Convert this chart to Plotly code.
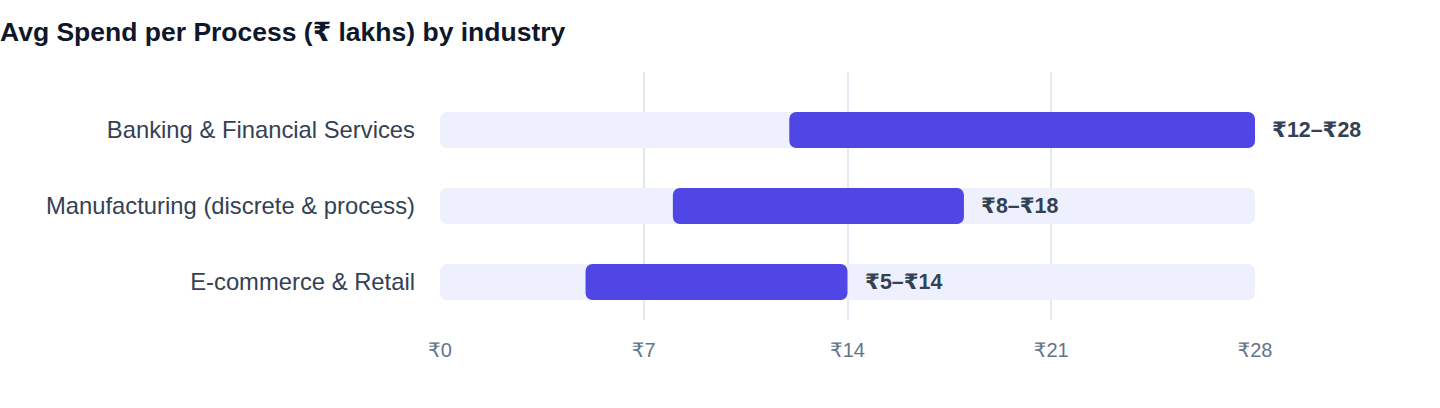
import plotly.graph_objects as go

industries = ["Banking & Financial Services", "Manufacturing (discrete & process)", "E-commerce & Retail"]
low_spend = [12, 8, 5]
high_spend = [28, 18, 14]
track_max = 28
tick_vals = [0, 7, 14, 21, 28]
tick_text = ["₹0", "₹7", "₹14", "₹21", "₹28"]

FONT = "Liberation Sans, Arial, Helvetica, DejaVu Sans, sans-serif"

fig = go.Figure()
fig.add_trace(go.Bar(
    y=industries, x=[track_max] * len(industries), base=[0] * len(industries),
    orientation="h", width=0.474,
    marker=dict(color="#EEF1FD", cornerradius=7, line=dict(width=0)),
    hoverinfo="skip", showlegend=False,
))
fig.add_trace(go.Bar(
    y=industries, x=[h - l for l, h in zip(low_spend, high_spend)], base=low_spend,
    orientation="h", width=0.474,
    marker=dict(color="#4F46E5", cornerradius=7, line=dict(width=0)),
    showlegend=False,
))
for name, l, h in zip(industries, low_spend, high_spend):
    fig.add_annotation(
        x=h, y=name, text=f"<b>₹{l}–₹{h}</b>", showarrow=False,
        xanchor="left", xshift=15, font=dict(size=21.4, color="#334155", family=FONT),
    )

fig.add_annotation(
    text="<b>Avg Spend per Process (₹ lakhs) by industry</b>",
    xref="paper", yref="paper", x=0, y=1, xanchor="left", yanchor="middle",
    xshift=-442, yshift=40, showarrow=False,
    font=dict(size=26.5, color="#0F172A", family=FONT),
)

fig.update_layout(
    width=1440, height=408,
    barmode="overlay",
    paper_bgcolor="white", plot_bgcolor="white",
    margin=dict(l=440, r=185, t=72, b=88),
    font=dict(family=FONT),
    xaxis=dict(range=[0, track_max], tickvals=tick_vals, ticktext=tick_text,
               showgrid=True, gridcolor="#E2E8F0", gridwidth=1.5, zeroline=False,
               showline=False, ticks="", ticklabelstandoff=16,
               tickfont=dict(size=20, color="#64748B")),
    yaxis=dict(range=[2.5, -0.763], showgrid=False, zeroline=False, showline=False,
               ticks="", ticklabelstandoff=24,
               tickfont=dict(size=23.8, color="#334155")),
)

fig.write_html("out.html", config={"displayModeBar": False},
               post_script="document.body.style.margin='0';")
